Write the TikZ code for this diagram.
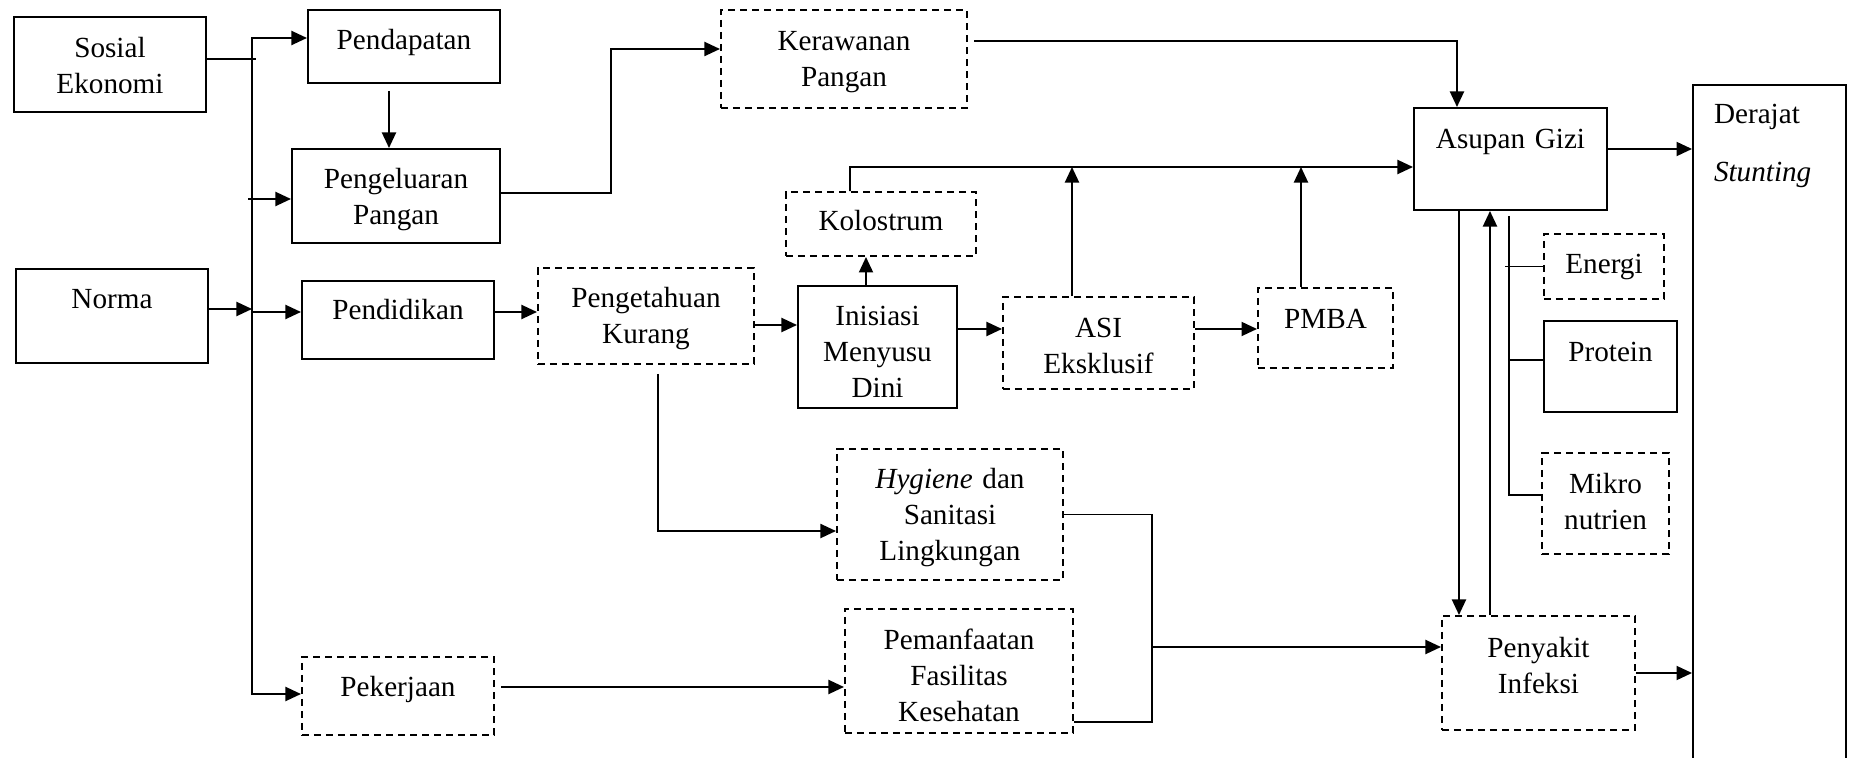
\documentclass[tikz,border=0pt]{standalone}
\usepackage{fontspec}
\setmainfont{Liberation Serif}
\usetikzlibrary{arrows.meta}

\begin{document}
\begin{tikzpicture}[x=0.01cm, y=-0.01cm,
    font=\fontsize{8.3pt}{0.36cm}\selectfont,
    line width=0.55pt,
    box/.style={draw, inner sep=0pt, align=center, text height=0.66em},
    dbox/.style={box, dash pattern=on 0.073cm off 0.047cm},
    wh/.style 2 args={text width=#1, minimum height=#2},
    arr/.style={-{Triangle[length=0.155cm, width=0.14cm]}},
    arrs/.style={{Triangle[length=0.155cm, width=0.14cm]}-{Triangle[length=0.155cm, width=0.14cm]}}]
    \clip (0,0) rectangle (1849,758);

    \node[box, wh={1.92cm}{0.95cm}, text depth=0.374cm] (sosial) at (110,64.5) {Sosial\\Ekonomi};
    \node[box, wh={1.92cm}{0.94cm}, text depth=0.374cm] (norma) at (112,316) {Norma};
    \node[box, wh={1.92cm}{0.73cm}, text depth=0.164cm] (pendapatan) at (404,46.5) {Pendapatan};
    \node[box, wh={2.08cm}{0.94cm}, text depth=0.374cm] (pengeluaran) at (396,196) {Pengeluaran\\Pangan};
    \node[box, wh={1.92cm}{0.78cm}, text depth=0.234cm] (pendidikan) at (398,320) {Pendidikan};
    \node[dbox, wh={1.92cm}{0.78cm}, text depth=0.214cm] (pekerjaan) at (398,696) {Pekerjaan};

    \node[dbox, wh={2.46cm}{0.98cm}, text depth=0.411cm] (kerawanan) at (844,59) {Kerawanan\\Pangan};
    \node[dbox, wh={1.90cm}{0.64cm}, text depth=0.094cm] (kolostrum) at (881,224) {Kolostrum};
    \node[dbox, wh={2.16cm}{0.96cm}, text depth=0.401cm] (pengetahuan) at (646,316) {Pengetahuan\\Kurang};
    \node[box, wh={1.59cm}{1.22cm}, text depth=0.671cm] (imd) at (877.5,347) {Inisiasi\\Menyusu\\Dini};
    \node[dbox, wh={1.91cm}{0.92cm}, text depth=0.351cm] (asi) at (1098.5,343) {ASI\\Eksklusif};
    \node[dbox, wh={1.35cm}{0.80cm}, text depth=0.214cm] (pmba) at (1325.5,328) {PMBA};
    \node[dbox, wh={2.26cm}{1.31cm}, text depth=0.751cm] (hygiene) at (950,514.5) {\textit{Hygiene} dan\\Sanitasi\\Lingkungan};
    \node[dbox, wh={2.28cm}{1.24cm}, text depth=0.661cm] (faskes) at (959,671) {Pemanfaatan\\Fasilitas\\Kesehatan};

    \node[box, wh={1.93cm}{1.02cm}, text depth=0.434cm] (asupan) at (1510.5,159) {Asupan Gizi};
    \node[dbox, wh={1.20cm}{0.65cm}, text depth=0.084cm] (energi) at (1604,266.5) {Energi};
    \node[box, wh={1.33cm}{0.91cm}, text depth=0.324cm] (protein) at (1610.5,366.5) {Protein};
    \node[dbox, wh={1.27cm}{1.01cm}, text depth=0.441cm] (mikro) at (1605.5,503.5) {Mikro\\nutrien};
    \node[dbox, wh={1.93cm}{1.14cm}, text depth=0.541cm] (infeksi) at (1538.5,673) {Penyakit\\Infeksi};
    \node[box, anchor=north west, minimum width=1.53cm, minimum height=7cm,
        label={[name=derajat, anchor=base west, inner sep=0pt, xshift=0.21cm, yshift=-0.395cm]north west:Derajat},
        label={[name=stuntingtxt, anchor=base west, inner sep=0pt, xshift=0.21cm, yshift=-0.975cm]north west:\textit{Stunting}}]
        (stunting) at (1692,84) {};

    \coordinate (b1) at (252,38);
    \coordinate (b2) at (248,199);
    \coordinate (b5) at (252,694);
    \coordinate (k1) at (611,49);
    \coordinate (t1) at (850,167);
    \coordinate (m1) at (1152,647);
    \coordinate (m2) at (1152,722);
    \coordinate (n1) at (1509,216);
    \coordinate (n2) at (1509,495);

    \draw[arrs] (b1 -| pendapatan.west) -- (b1) -- (b5) -- (b5 -| pekerjaan.west);
    \draw ([yshift=0.055cm]sosial.east) -- ++(49,0);
    \draw[arr] (b2) to (b2 -| pengeluaran.west);
    \draw[arr] ([yshift=0.07cm]norma.east) to ([yshift=0.07cm]norma.east -| b1);
    \draw[arr] ([yshift=0.08cm]pendidikan.west -| b1) to ([yshift=0.08cm]pendidikan.west);
    \draw[arr] ([xshift=-0.15cm, yshift=-0.07cm]pendapatan.south) to ([xshift=-0.15cm]pendapatan.south |- pengeluaran.north);

    \draw[arr] ([yshift=0.03cm]pengeluaran.east) -| (k1) -- (k1 -| kerawanan.west);
    \draw[arr] ([xshift=0.06cm, yshift=0.18cm]kerawanan.east) -| ([xshift=-0.535cm]asupan.north);

    \draw[arr] ([yshift=0.08cm]pendidikan.east) to ([yshift=0.08cm]pendidikan.east -| pengetahuan.west);
    \draw[arr] ([yshift=-0.09cm]pengetahuan.east) to ([yshift=-0.09cm]pengetahuan.east -| imd.west);
    \draw[arr] ([xshift=-0.115cm]imd.north) to ([xshift=-0.115cm]imd.north |- kolostrum.south);
    \draw[arr] ([yshift=0.18cm]imd.east) to ([yshift=0.18cm]imd.east -| asi.west);
    \draw[arr] ([yshift=0.14cm]asi.east) to ([yshift=0.14cm]asi.east -| pmba.west);
    \draw[arr] ([xshift=-0.31cm]kolostrum.north) -- (t1) -- (t1 -| asupan.west);
    \draw[arr] ([xshift=-0.265cm]asi.north) to ([xshift=-0.265cm]asi.north |- t1);
    \draw[arr] ([xshift=-0.245cm]pmba.north) to ([xshift=-0.245cm]pmba.north |- t1);

    \draw[arr] ([xshift=0.12cm, yshift=-0.09cm]pengetahuan.south) |- ([yshift=-0.165cm]hygiene.west);
    \draw[arr] ([xshift=0.06cm, yshift=0.09cm]pekerjaan.east) to ([yshift=0.09cm]pekerjaan.east -| faskes.west);
    \draw (hygiene.east) -| (m2) -- (m2 -| faskes.east);
    \draw[arr] (m1) to (m1 -| infeksi.west);

    \draw[arr] ([xshift=-0.515cm]asupan.south) to ([xshift=-0.515cm]asupan.south |- infeksi.north);
    \draw[arr] ([xshift=-0.485cm]infeksi.north) to ([xshift=-0.485cm]infeksi.north |- asupan.south);
    \draw (n1) -- (n2) -- (n2 -| mikro.west);
    \draw ([xshift=-0.04cm]energi.west -| n1) to (energi.west);
    \draw ([yshift=0.065cm]protein.west -| n1) to ([yshift=0.065cm]protein.west);

    \draw[arr] ([yshift=0.1cm]asupan.east) to ([yshift=0.1cm]asupan.east -| stunting.west);
    \draw[arr] (infeksi.east) to (infeksi.east -| stunting.west);
\end{tikzpicture}
\end{document}
